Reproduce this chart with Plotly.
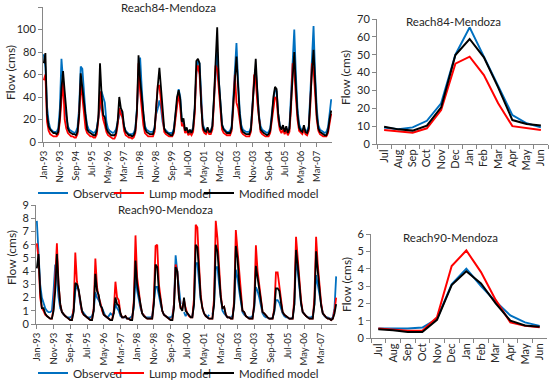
import plotly.graph_objects as go

# ---------------- DATA ----------------
years = list(range(1993, 2008))
month_abbr = ["Jan", "Feb", "Mar", "Apr", "May", "Jun", "Jul", "Aug", "Sep", "Oct", "Nov", "Dec"]
month_labels = [f"{m}-{str(y)[2:]}" for y in years for m in month_abbr]

ts_tick_labels = ["Jan-93", "Nov-93", "Sep-94", "Jul-95", "May-96", "Mar-97", "Jan-98", "Nov-98",
                  "Sep-99", "Jul-00", "May-01", "Mar-02", "Jan-03", "Nov-03", "Sep-04", "Jul-05",
                  "May-06", "Mar-07"]

# Reach84 monthly flow (cms), Jan-93 .. Dec-07
r84_observed = [
    78, 66, 32, 18, 12, 10, 9, 9, 9, 12, 30, 74,
    50, 35, 22, 14, 11, 10, 9, 8, 9, 13, 30, 67,
    65, 42, 25, 15, 11, 10, 9, 8, 9, 12, 22, 30,
    45, 40, 35, 18, 12, 10, 9, 8, 9, 11, 18, 22,
    28, 22, 14, 10, 8, 7, 7, 7, 8, 12, 30, 55,
    75, 48, 25, 14, 11, 10, 9, 9, 9, 13, 25, 30,
    37, 30, 18, 12, 10, 9, 8, 8, 8, 12, 25, 40,
    47, 40, 18, 16, 10, 10, 9, 9, 9, 13, 30, 60,
    72, 70, 35, 16, 12, 10, 11, 9, 10, 15, 38, 60,
    80, 55, 30, 16, 12, 10, 9, 9, 10, 14, 40, 60,
    88, 55, 28, 15, 11, 10, 9, 9, 9, 13, 35, 55,
    65, 45, 24, 14, 11, 10, 9, 8, 9, 12, 25, 38,
    47, 45, 25, 15, 12, 13, 10, 12, 10, 14, 40, 70,
    100, 60, 30, 16, 12, 10, 12, 10, 10, 14, 45, 75,
    103, 60, 30, 15, 11, 10, 9, 8, 9, 13, 25, 38,
]
r84_lump = [
    55, 60, 18, 10, 7, 6, 5, 5, 5, 7, 18, 37,
    55, 20, 12, 8, 6, 5, 5, 4, 4, 7, 22, 52,
    40, 25, 12, 8, 6, 5, 5, 4, 4, 7, 20, 45,
    30, 20, 15, 9, 6, 5, 4, 3, 3, 6, 15, 30,
    25, 22, 10, 6, 5, 4, 4, 3, 4, 8, 25, 70,
    45, 30, 15, 8, 6, 5, 5, 5, 5, 9, 30, 50,
    50, 35, 18, 9, 7, 6, 5, 5, 5, 8, 20, 35,
    44, 30, 14, 16, 8, 10, 6, 8, 6, 9, 25, 62,
    68, 60, 28, 11, 8, 7, 10, 7, 7, 11, 35, 68,
    65, 45, 22, 11, 8, 7, 6, 6, 6, 10, 30, 60,
    35, 30, 18, 9, 7, 6, 5, 5, 5, 9, 28, 60,
    55, 35, 18, 9, 7, 6, 5, 5, 5, 8, 18, 32,
    40, 38, 20, 11, 8, 11, 7, 10, 6, 9, 30, 70,
    65, 40, 20, 10, 8, 7, 11, 7, 6, 10, 32, 70,
    65, 42, 20, 10, 7, 6, 5, 5, 5, 8, 15, 25,
]
r84_modified = [
    70, 79, 25, 14, 11, 9, 8, 8, 7, 9, 22, 48,
    63, 45, 25, 12, 9, 8, 7, 7, 6, 9, 25, 61,
    48, 35, 20, 11, 9, 8, 7, 6, 6, 10, 22, 70,
    42, 24, 22, 12, 9, 7, 6, 6, 6, 8, 18, 40,
    30, 27, 14, 9, 7, 6, 6, 5, 6, 10, 28, 77,
    55, 40, 22, 12, 9, 8, 7, 7, 7, 12, 35, 50,
    66, 48, 24, 12, 9, 8, 7, 6, 6, 10, 25, 40,
    46, 38, 18, 21, 10, 13, 8, 11, 8, 12, 30, 72,
    74, 70, 33, 14, 10, 9, 13, 9, 9, 14, 40, 70,
    102, 55, 30, 15, 11, 9, 8, 8, 8, 12, 35, 60,
    76, 50, 25, 12, 9, 8, 7, 7, 7, 11, 32, 62,
    74, 45, 22, 11, 9, 8, 7, 6, 7, 10, 22, 40,
    49, 47, 25, 14, 11, 15, 9, 14, 8, 12, 35, 60,
    80, 50, 25, 13, 10, 9, 15, 9, 8, 12, 40, 62,
    82, 55, 24, 12, 9, 8, 7, 6, 6, 10, 20, 28,
]

# Reach90 monthly flow (cms), Jan-93 .. Dec-07 (None = missing observation)
r90_observed = [
    7.8, 5.0, 3.0, 2.0, 1.5, 1.2, 1.0, 0.9, 0.9, 1.0, 2.5, 4.5,
    3.5, 2.0, 1.2, 0.9, 0.7, 0.6, 0.5, 0.5, 0.5, 0.6, 1.0, 2.5,
    3.0, 2.5, 1.5, 1.0, 0.8, 0.6, 0.5, 0.5, 0.5, 0.6, 1.0, 2.4,
    2.0, 1.8, 1.5, 1.2, 0.8, 0.6, 0.5, 0.6, 0.8, 0.7, 0.8, 1.5,
    1.2, 1.0, 0.6, 0.5, 0.5, 0.5, 0.4, 0.4, 0.5, 0.6, 1.2, 3.5,
    2.5, 1.8, 1.2, 0.8, 0.6, 0.5, 0.5, 0.5, 0.5, 0.6, 1.5, 2.8,
    2.8, 2.0, 1.5, 1.0, 0.7, 0.6, 0.5, 0.5, 0.5, 0.6, 1.5, 5.2,
    4.0, 2.5, 1.5, None, 0.9, 0.6, 0.8, None, 0.5, 0.6, 1.5, 4.6,
    4.6, 3.0, 1.8, None, None, 0.7, 0.5, 0.7, None, 0.7, 1.5, 4.3,
    4.3, 3.0, 1.8, 1.0, 0.8, 0.6, 0.5, 0.5, 0.5, 0.6, 1.4, 4.1,
    3.5, 2.5, 1.5, 0.9, 0.7, 0.6, 0.5, 0.5, 0.5, 0.6, 1.2, 2.8,
    2.5, 2.0, 1.3, 0.8, 0.6, 0.5, 0.5, 0.4, 0.4, 0.5, 0.9, 1.8,
    1.8, 1.6, 1.2, 0.8, 0.6, 0.5, 0.5, 0.4, 0.4, 0.5, 1.5, 5.0,
    4.0, 2.5, 1.5, 0.9, 0.7, 0.6, 0.5, 0.5, 0.5, 0.6, 1.5, 3.7,
    3.0, 2.0, 1.3, 0.8, 0.6, 0.5, 0.5, 0.4, 0.4, 0.5, 1.2, 3.6,
]
r90_lump = [
    6.1, 5.0, 2.0, 1.2, 1.0, 0.7, 0.6, 0.5, 0.4, 0.4, 1.2, 3.5,
    6.1, 3.0, 1.5, 0.9, 0.7, 0.6, 0.5, 0.4, 0.3, 0.3, 1.2, 5.4,
    3.2, 2.5, 1.5, 0.9, 0.7, 0.6, 0.5, 0.4, 0.3, 0.3, 1.2, 4.95,
    2.8, 2.0, 1.6, 1.0, 0.7, 0.6, 0.5, 0.4, 0.3, 0.3, 1.0, 3.2,
    2.0, 1.8, 0.8, 0.5, 0.5, 0.6, 0.4, 0.4, 0.3, 0.3, 1.8, 6.7,
    3.5, 2.5, 1.4, 0.8, 0.6, 0.5, 0.4, 0.4, 0.4, 0.4, 2.0, 5.9,
    6.0, 3.0, 2.0, 1.0, 0.7, 0.6, 0.5, 0.4, 0.3, 0.3, 1.5, 4.5,
    4.0, 2.0, 1.2, 1.2, 1.8, 1.2, 0.8, 0.6, 0.5, 0.5, 2.0, 7.5,
    7.3, 4.5, 2.2, 1.2, 0.8, 0.6, 0.5, 0.4, 0.4, 0.4, 2.0, 7.8,
    6.5, 4.0, 2.2, 1.2, 1.3, 0.7, 0.5, 0.5, 0.4, 0.4, 1.8, 7.1,
    5.5, 3.5, 2.0, 1.0, 0.9, 0.6, 0.5, 0.4, 0.4, 0.4, 1.6, 5.95,
    4.0, 2.8, 1.6, 0.9, 0.8, 0.6, 0.5, 0.4, 0.4, 0.4, 1.2, 3.9,
    3.9, 2.8, 1.8, 0.9, 0.7, 0.6, 0.5, 0.4, 0.4, 0.4, 2.0, 6.6,
    5.0, 3.2, 1.8, 0.9, 0.7, 0.6, 0.5, 0.4, 0.4, 0.4, 2.0, 6.6,
    4.5, 2.8, 1.6, 0.8, 0.6, 0.5, 0.4, 0.4, 0.3, 0.4, 1.0, 2.0,
]
r90_modified = [
    4.2, 5.3, 2.5, 1.2, 1.2, 0.8, 0.6, 0.5, 0.4, 0.4, 1.0, 2.5,
    5.3, 3.0, 1.5, 0.9, 0.7, 0.6, 0.5, 0.4, 0.3, 0.3, 0.9, 3.1,
    3.0, 2.6, 1.6, 1.0, 0.7, 0.6, 0.5, 0.4, 0.3, 0.3, 1.0, 3.8,
    2.5, 2.2, 1.4, 1.2, 0.7, 0.6, 0.5, 0.4, 0.3, 0.3, 0.8, 2.0,
    1.5, 1.4, 0.8, 0.5, 0.5, 0.6, 0.4, 0.4, 0.3, 0.3, 1.5, 4.8,
    3.0, 2.2, 1.3, 0.8, 0.6, 0.5, 0.4, 0.4, 0.4, 0.4, 1.5, 4.5,
    4.3, 2.5, 1.8, 1.0, 0.7, 0.6, 0.5, 0.4, 0.3, 0.3, 1.2, 4.3,
    4.0, 2.0, 1.2, 1.0, 2.0, 1.0, 0.8, 0.6, 0.5, 0.5, 1.5, 6.0,
    5.8, 4.0, 2.0, 1.2, 0.8, 0.6, 0.5, 0.4, 0.4, 0.4, 1.5, 6.0,
    5.5, 3.5, 2.0, 1.2, 1.3, 0.7, 0.5, 0.5, 0.4, 0.4, 1.5, 5.9,
    5.0, 3.0, 1.8, 1.0, 0.9, 0.6, 0.5, 0.4, 0.4, 0.4, 1.4, 4.4,
    3.5, 2.5, 1.5, 0.9, 0.8, 0.6, 0.5, 0.4, 0.4, 0.4, 1.0, 2.7,
    2.7, 2.5, 1.6, 0.9, 0.7, 0.6, 0.5, 0.4, 0.4, 0.4, 1.5, 5.6,
    4.5, 2.8, 1.6, 0.9, 0.7, 0.6, 0.5, 0.4, 0.4, 0.4, 1.5, 5.5,
    4.0, 2.5, 1.4, 0.8, 0.6, 0.5, 0.4, 0.4, 0.3, 0.4, 0.8, 1.5,
]

# Mean monthly flow (cms), hydrological year Jul..Jun
mean_months = ["Jul", "Aug", "Sep", "Oct", "Nov", "Dec", "Jan", "Feb", "Mar", "Apr", "May", "Jun"]
r84_mean_observed = [9.3, 8.2, 9.3, 13.0, 22.8, 50.0, 65.3, 49.0, 32.0, 16.2, 11.6, 9.3]
r84_mean_lump = [7.8, 6.9, 6.3, 8.8, 19.0, 45.0, 48.9, 38.6, 22.8, 10.0, 8.8, 7.8]
r84_mean_modified = [9.7, 8.2, 7.5, 10.3, 20.5, 49.8, 58.8, 48.5, 31.7, 13.4, 11.2, 10.3]

r90_mean_observed = [0.55, 0.55, 0.55, 0.6, 1.1, 3.1, 4.0, 3.0, 2.1, 1.3, 0.9, 0.7]
r90_mean_lump = [0.55, 0.5, 0.42, 0.42, 1.2, 4.15, 5.05, 3.8, 2.2, 0.9, 0.7, 0.62]
r90_mean_modified = [0.5, 0.45, 0.35, 0.35, 1.05, 3.05, 3.85, 3.15, 2.0, 1.0, 0.72, 0.65]

# ---------------- STYLE ----------------
W, H = 550, 380
C_OBS, C_LUMP, C_MOD = "#0070C0", "#FF0000", "#000000"
FONT = "Lato, 'Open Sans', sans-serif"
TXT = "#262626"
AX = "#868686"

def px_x(a, b):
    return [a / W, b / W]

def px_y(top, bottom):
    return [1 - bottom / H, 1 - top / H]

fig = go.Figure()

series_names = ["Observed", "Lump model", "Modified model"]
colors = [C_OBS, C_LUMP, C_MOD]
top_legends = ["legend", "legend2", "legend3"]
bot_legends = ["legend4", "legend5", "legend6"]

# top-left
for name, col, ys, lg in zip(series_names, colors, [r84_observed, r84_lump, r84_modified], top_legends):
    fig.add_trace(go.Scatter(x=month_labels, y=ys, name=name, mode="lines",
                             line=dict(color=col, width=1.8), xaxis="x", yaxis="y",
                             legend=lg))
# bottom-left
for name, col, ys, lg in zip(series_names, colors, [r90_observed, r90_lump, r90_modified], bot_legends):
    fig.add_trace(go.Scatter(x=month_labels, y=ys, name=name, mode="lines",
                             line=dict(color=col, width=1.8), xaxis="x3", yaxis="y3",
                             legend=lg, connectgaps=False))
# top-right
for name, col, ys in zip(series_names, colors, [r84_mean_observed, r84_mean_lump, r84_mean_modified]):
    fig.add_trace(go.Scatter(x=mean_months, y=ys, name=name, mode="lines",
                             line=dict(color=col, width=2), xaxis="x2", yaxis="y2",
                             showlegend=False))
# bottom-right
for name, col, ys in zip(series_names, colors, [r90_mean_observed, r90_mean_lump, r90_mean_modified]):
    fig.add_trace(go.Scatter(x=mean_months, y=ys, name=name, mode="lines",
                             line=dict(color=col, width=2), xaxis="x4", yaxis="y4",
                             showlegend=False))

tickfont = dict(family=FONT, size=11, color=TXT)
xtickfont = dict(family=FONT, size=9.5, color=TXT)

def yax(dom, rng, dtick, anchor):
    return dict(domain=dom, range=rng, dtick=dtick, anchor=anchor, showgrid=False,
                zeroline=False, showline=True, linecolor=AX, linewidth=1, automargin=False,
                ticks="outside", ticklen=4, tickcolor=AX, tickfont=tickfont)

def xax_ts(dom, anchor):
    return dict(domain=dom, type="category", range=[-0.5, len(month_labels) - 0.5],
                anchor=anchor, tickmode="array", tickvals=ts_tick_labels, ticktext=ts_tick_labels,
                tickangle=-90, showgrid=False, zeroline=False, showline=True, linecolor=AX,
                linewidth=1, ticks="outside", ticklen=4, tickcolor=AX, tickfont=xtickfont,
                automargin=False)

def xax_mean(dom, anchor):
    return dict(domain=dom, type="category", range=[-0.5, 11.5], anchor=anchor,
                tickangle=-90, tickson="boundaries", showgrid=False, zeroline=False,
                showline=True, linecolor=AX, linewidth=1, ticks="outside", ticklen=4,
                tickcolor=AX, tickfont=tickfont, automargin=False)

legend_font = dict(family=FONT, size=11.5, color=TXT)

def leg(xpx, ypx):
    return dict(orientation="h", x=xpx / W, xanchor="left", y=1 - ypx / H, yanchor="middle",
                font=legend_font, bgcolor="rgba(0,0,0,0)", itemwidth=30, borderwidth=0)

legend_x = [33, 109, 199]
fig.update_layout(
    width=W, height=H,
    margin=dict(l=0, r=0, t=0, b=0, autoexpand=False),
    paper_bgcolor="white", plot_bgcolor="white",
    font=dict(family=FONT, color=TXT),
    xaxis=xax_ts(px_x(43, 332), "y"),
    yaxis=yax(px_y(7, 142), [0, 120], 20, "x"),
    xaxis2=xax_mean(px_x(377, 548), "y2"),
    yaxis2=yax(px_y(19, 144), [0, 70], 10, "x2"),
    xaxis3=xax_ts(px_x(36, 337), "y3"),
    yaxis3=yax(px_y(205, 324), [0, 9], 1, "x3"),
    xaxis4=xax_mean(px_x(371, 547), "y4"),
    yaxis4=yax(px_y(234, 338), [0, 6], 1, "x4"),
    legend=leg(legend_x[0], 193),
    legend2=leg(legend_x[1], 193),
    legend3=leg(legend_x[2], 193),
    legend4=leg(legend_x[0], 373),
    legend5=leg(legend_x[1], 373),
    legend6=leg(legend_x[2], 373),
)

ann_font = dict(family=FONT, size=11.5, color=TXT)
title_font = dict(family=FONT, size=12, color=TXT)
annotations = [
    dict(text="Reach84-Mendoza", x=168 / W, y=1 - 8 / H),
    dict(text="Reach90-Mendoza", x=165 / W, y=1 - 209 / H),
    dict(text="Reach84-Mendoza", x=453 / W, y=1 - 22 / H),
    dict(text="Reach90-Mendoza", x=450 / W, y=1 - 237 / H),
]
for a in annotations:
    fig.add_annotation(xref="paper", yref="paper", showarrow=False, xanchor="center",
                       yanchor="middle", font=ann_font, **a)

for xx, yy in [(10, 73), (11, 258), (346, 78), (346, 285)]:
    fig.add_annotation(text="Flow (cms)", xref="paper", yref="paper", x=xx / W, y=1 - yy / H,
                       showarrow=False, textangle=-90, xanchor="center", yanchor="middle",
                       font=title_font)

fig.write_html("out.html", config={"displayModeBar": False},
               post_script="document.body.style.margin='0';")
